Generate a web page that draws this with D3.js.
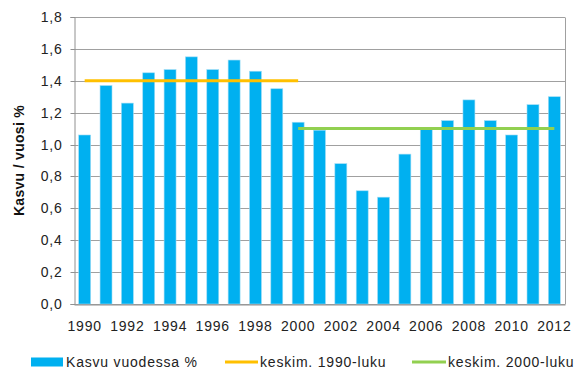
<!DOCTYPE html>
<html>
<head>
<meta charset="utf-8">
<script src="https://cdn.jsdelivr.net/npm/d3@7"></script>
<style>
  html, body { margin: 0; padding: 0; background: #fff; }
  svg { display: block; font-family: "Liberation Sans", Arial, sans-serif; }
</style>
</head>
<body>
<svg id="chart" width="575" height="372"></svg>
<script>
// Annual growth, 1990–2012
const years = d3.range(1990, 2013);
const growth = [1.06, 1.37, 1.26, 1.45, 1.47, 1.55, 1.47, 1.53, 1.46, 1.35,
                1.14, 1.09, 0.88, 0.71, 0.67, 0.94, 1.10, 1.15, 1.28, 1.15,
                1.06, 1.25, 1.30];
// Decade averages
const avg1990s = 1.40;
const avg2000s = 1.10;
const avg1990sSpan = [1990, 2000];
const avg2000sSpan = [2000, 2012];
const yTicks = [0, 0.2, 0.4, 0.6, 0.8, 1.0, 1.2, 1.4, 1.6, 1.8];
const xTickYears = years.filter(y => y % 2 === 0);

const legendLabels = ["Kasvu vuodessa %", "keskim. 1990-luku", "keskim. 2000-luku"];
const yTitle = "Kasvu / vuosi %";

const svg = d3.select("#chart");
const margin = { left: 74, right: 10, top: 17, bottom: 68 };
const W = 575, H = 372;
const FS = 14, LS = 0.8;

const x = d3.scaleBand()
  .domain(years)
  .range([margin.left, W - margin.right])
  .paddingInner(0.44)
  .paddingOuter(0.22);

const y = d3.scaleLinear()
  .domain([0, 1.8])
  .range([H - margin.bottom, margin.top]);

const fmt = d => d3.format(".1f")(d).replace(".", ",");

// gridlines
svg.append("g")
  .selectAll("line")
  .data(yTicks)
  .join("line")
  .attr("x1", margin.left)
  .attr("x2", W - margin.right)
  .attr("y1", d => Math.round(y(d)) + 0.5)
  .attr("y2", d => Math.round(y(d)) + 0.5)
  .attr("stroke", "#a0a0a0")
  .attr("stroke-width", 1);

// right frame edge
svg.append("line")
  .attr("x1", W - margin.right + 0.5).attr("x2", W - margin.right + 0.5)
  .attr("y1", Math.round(y(1.8)) + 0.5).attr("y2", Math.round(y(0)) + 0.5)
  .attr("stroke", "#a0a0a0");

// bars
svg.append("g")
  .selectAll("rect")
  .data(years)
  .join("rect")
  .attr("x", d => x(d))
  .attr("width", x.bandwidth())
  .attr("y", (d, i) => y(growth[i]))
  .attr("height", (d, i) => y(0) - y(growth[i]))
  .attr("fill", "#00b0f0")
  .attr("stroke", "#9fdcf5")
  .attr("stroke-width", 0.6);

// y axis
const yAxis = svg.append("g")
  .attr("transform", `translate(${margin.left + 0.5},0)`)
  .call(d3.axisLeft(y).tickValues(yTicks).tickFormat(fmt).tickSize(4).tickPadding(8));
yAxis.selectAll(".tick").attr("transform", d => `translate(0,${Math.round(y(d)) + 0.5})`);
yAxis.select(".domain").attr("stroke", "#909090");
yAxis.selectAll(".tick line").attr("stroke", "#909090");
yAxis.selectAll("text").attr("font-size", FS).attr("fill", "#222")
  .attr("letter-spacing", LS)
  .attr("font-family", "Liberation Sans, Arial, sans-serif");

// x axis
const xAxis = svg.append("g")
  .attr("transform", `translate(0,${Math.round(y(0)) + 0.5})`)
  .call(d3.axisBottom(x).tickValues(xTickYears).tickSize(0).tickPadding(17));
xAxis.select(".domain").attr("stroke", "#909090");
xAxis.selectAll("text").attr("font-size", FS).attr("fill", "#222")
  .attr("letter-spacing", LS)
  .attr("font-family", "Liberation Sans, Arial, sans-serif");

// average lines
const center = yr => x(yr) + x.bandwidth() / 2;
svg.append("line")
  .attr("x1", center(avg1990sSpan[0])).attr("x2", center(avg1990sSpan[1]))
  .attr("y1", y(avg1990s)).attr("y2", y(avg1990s))
  .attr("stroke", "#ffc000").attr("stroke-width", 3);
svg.append("line")
  .attr("x1", center(avg2000sSpan[0])).attr("x2", center(avg2000sSpan[1]))
  .attr("y1", y(avg2000s)).attr("y2", y(avg2000s))
  .attr("stroke", "#92d050").attr("stroke-width", 3);

// y axis title
svg.append("text")
  .attr("transform", `translate(24,${(y(0) + y(1.8)) / 2}) rotate(-90)`)
  .attr("text-anchor", "middle")
  .attr("font-size", FS)
  .attr("font-weight", "bold")
  .attr("letter-spacing", 0.3)
  .attr("fill", "#111")
  .text(yTitle);

// legend
const legY = 362;
const leg = svg.append("g").attr("font-size", FS).attr("letter-spacing", LS).attr("fill", "#222");
leg.append("rect").attr("x", 31).attr("y", legY - 4.5).attr("width", 32).attr("height", 9).attr("fill", "#00b0f0");
leg.append("text").attr("x", 66).attr("y", legY + 5).text(legendLabels[0]);
leg.append("line").attr("x1", 225).attr("x2", 258).attr("y1", legY).attr("y2", legY)
  .attr("stroke", "#ffc000").attr("stroke-width", 3);
leg.append("text").attr("x", 260).attr("y", legY + 5).text(legendLabels[1]);
leg.append("line").attr("x1", 412).attr("x2", 446).attr("y1", legY).attr("y2", legY)
  .attr("stroke", "#92d050").attr("stroke-width", 3);
leg.append("text").attr("x", 448).attr("y", legY + 5).text(legendLabels[2]);
</script>
</body>
</html>
